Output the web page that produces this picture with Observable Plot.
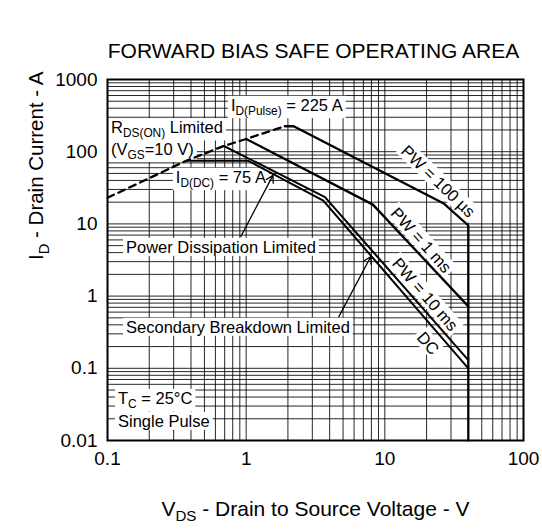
<!DOCTYPE html>
<html><head><meta charset="utf-8">
<script src="https://cdn.jsdelivr.net/npm/d3@7"></script>
<script src="https://cdn.jsdelivr.net/npm/@observablehq/plot@0.6"></script>
<style>body{margin:0;background:#fff}</style>
</head><body><div id="chart"></div>
<script>
// ---- tick labels ----
const xTicks = [0.1, 1, 10, 100];
const xTickLabels = ["0.1", "1", "10", "100"];
const yTicks = [0.01, 0.1, 1, 10, 100, 1000];
const yTickLabels = ["0.01", "0.1", "1", "10", "100", "1000"];

// ---- curves (V_DS in V, I_D in A) ----
const rdsV = [0.1, 0.37, 0.69, 1.0, 1.9];
const rdsI = [23, 75, 120, 150, 225];
const pw100usV = [1.9, 2.2, 26.8, 40, 40];
const pw100usI = [225, 225, 19, 9.5, 0.01];
const pw1msV = [1.0, 8.2, 40];
const pw1msI = [150, 18.5, 0.72];
const pw10msV = [0.69, 3.7, 40];
const pw10msI = [120, 23.5, 0.13];
const dcV = [0.37, 1.03, 3.6, 40];
const dcI = [75, 75, 21, 0.1];

// ---- annotations ----
const boxedText = ["I_{D(Pulse)} = 225 A", "R_{DS(ON)} Limited", "(V_{GS}=10 V)", "I_{D(DC)} = 75 A",
  "Power Dissipation Limited", "Secondary Breakdown Limited", "T_{C} = 25°C", "Single Pulse"];
const boxedV = [0.776, 0.106, 0.106, 0.311, 0.136, 0.136, 0.119, 0.119];
const boxedI = [437, 215, 108, 44, 4.7, 0.367, 0.038, 0.0183];

const pwText = ["PW = 100 µs", "PW = 1 ms", "PW = 10 ms", "DC"];
const pwV = [24.1, 18.2, 19.4, 20.4];
const pwI = [38.6, 5.9, 1.05, 0.22];
const pwAngle = [44, 48, 49, 49];

const arrowV1 = [0.916, 4.66], arrowI1 = [6.7, 0.52];
const arrowV2 = [1.56, 7.93], arrowI2 = [47, 3.53];

// grid positions (log decades)
const gridX = []; for (let e = -1; e <= 1; e++) for (let k = 1; k <= 9; k++) gridX.push(k * 10 ** e); gridX.push(100);
const gridY = []; for (let e = -2; e <= 2; e++) for (let k = 1; k <= 9; k++) gridY.push(k * 10 ** e); gridY.push(1000);

const font = "'Liberation Sans', Arial, Helvetica, sans-serif";
const pts = (xs, ys) => d3.zip(xs, ys);
const curve = (xs, ys, extra = {}) => Plot.line(pts(xs, ys), {x: d => d[0], y: d => d[1], stroke: "black", strokeWidth: 2.3, ...extra});

const svg = Plot.plot({
  width: 542, height: 531,
  marginTop: 79, marginRight: 19, marginBottom: 91, marginLeft: 107,
  style: {fontFamily: font, fontSize: "19px", background: "white", color: "black", overflow: "visible"},
  x: {type: "log", domain: [0.1, 100], axis: null},
  y: {type: "log", domain: [0.01, 1000], axis: null},
  marks: [
    Plot.ruleX(gridX, {stroke: "#000", strokeWidth: 1, strokeOpacity: 0.85}),
    Plot.ruleY(gridY, {stroke: "#000", strokeWidth: 1, strokeOpacity: 0.85}),
    Plot.text(boxedText, {x: (d, i) => boxedV[i], y: (d, i) => boxedI[i], text: d => d, textAnchor: "start", fontSize: 16.5, fill: "black", ariaDescription: "boxed"}),
    Plot.text(pwText, {x: (d, i) => pwV[i], y: (d, i) => pwI[i], text: d => d, rotate: (d, i) => pwAngle[i], fontSize: 16.5, fill: "black", ariaDescription: "boxed"}),
    curve(rdsV, rdsI, {strokeDasharray: "7,5", strokeWidth: 2.3}),
    curve(pw100usV, pw100usI),
    curve(pw1msV, pw1msI),
    curve(pw10msV, pw10msI, {strokeWidth: 2}),
    curve(dcV, dcI, {strokeWidth: 2}),
    Plot.arrow(arrowV1, {x1: d => d, y1: (d, i) => arrowI1[i], x2: (d, i) => arrowV2[i], y2: (d, i) => arrowI2[i], stroke: "black", strokeWidth: 1.3, headLength: 9}),
    Plot.frame({stroke: "black", strokeWidth: 2}),
    Plot.axisX(xTicks, {tickSize: 0, tickPadding: 11, tickFormat: (d) => xTickLabels[xTicks.indexOf(d)], fontSize: 19, label: null}),
    Plot.axisY(yTicks, {tickSize: 0, tickPadding: 10, tickFormat: (d) => yTickLabels[yTicks.indexOf(d)], fontSize: 19, label: null}),
    Plot.text(["FORWARD BIAS SAFE OPERATING AREA"], {frameAnchor: "top", dy: -36, dx: -2, fontSize: 21, fill: "black"}),
    Plot.text(["V_{DS} - Drain to Source Voltage - V"], {frameAnchor: "bottom", dy: 75, fontSize: 21, fill: "black"}),
    Plot.text(["I_{D} - Drain Current - A"], {frameAnchor: "left", dx: -71, rotate: -90, fontSize: 20.5, fill: "black"})
  ]
});
document.getElementById("chart").appendChild(svg);

// ---- subscripts and white label boxes ----
const svgns = "http://www.w3.org/2000/svg";
function richify(t) {
  const fs = parseFloat(getComputedStyle(t).fontSize) || 16;
  const parts = t.textContent.split(/(_\{[^}]*\})/);
  t.textContent = "";
  let shifted = false;
  for (const p of parts) {
    if (!p) continue;
    const s = document.createElementNS(svgns, "tspan");
    if (p.startsWith("_{")) {
      s.textContent = p.slice(2, -1);
      s.setAttribute("font-size", fs * 0.72);
      s.setAttribute("dy", fs * 0.27);
      shifted = true;
    } else {
      s.textContent = p;
      if (shifted) { s.setAttribute("dy", -fs * 0.27); shifted = false; }
    }
    t.appendChild(s);
  }
}
svg.querySelectorAll("text").forEach(t => { if (t.textContent.includes("_{")) richify(t); });
svg.querySelectorAll('g[aria-description="boxed"] text').forEach(t => {
  const b = t.getBBox();
  const r = document.createElementNS(svgns, "rect");
  r.setAttribute("x", b.x - 3);
  r.setAttribute("y", b.y);
  r.setAttribute("width", b.width + 6);
  r.setAttribute("height", b.height);
  r.setAttribute("fill", "white");
  r.setAttribute("stroke", "none");
  const tr = t.getAttribute("transform");
  if (tr) r.setAttribute("transform", tr);
  t.parentNode.insertBefore(r, t);
});
</script>
</body></html>
